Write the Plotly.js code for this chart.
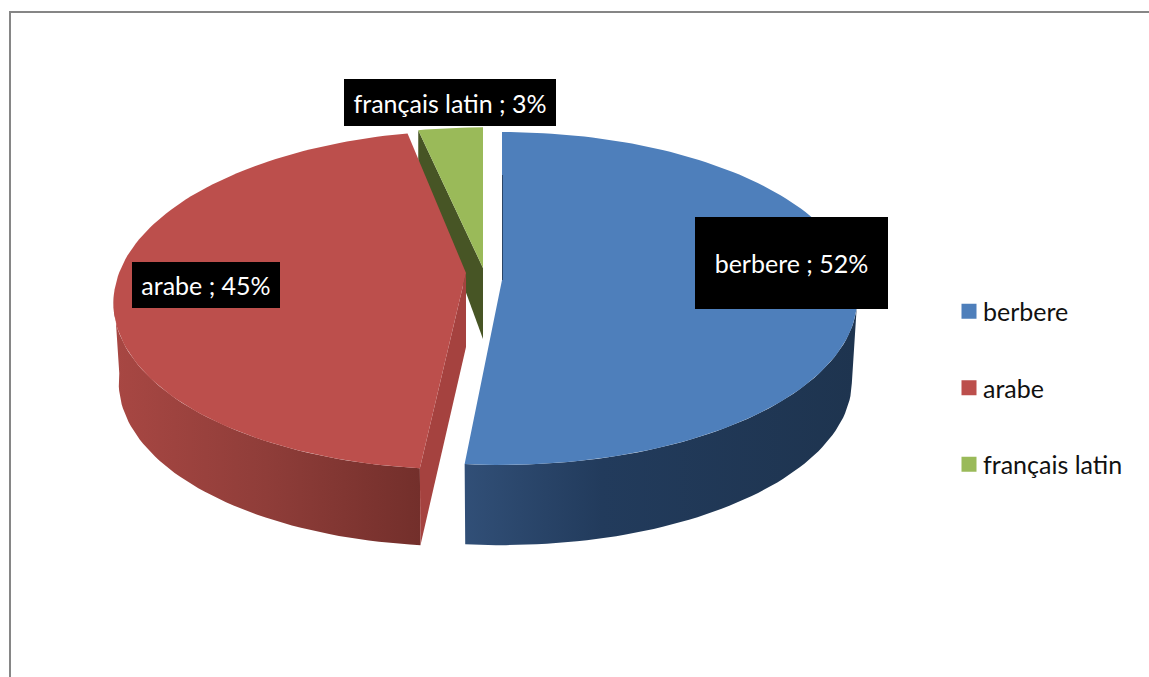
<!DOCTYPE html>
<html>
<head>
<meta charset="utf-8">
<script src="https://cdn.plot.ly/plotly-3.0.1.min.js"></script>
<style>
html,body{margin:0;padding:0;background:#fff;overflow:hidden}
#c{width:1149px;height:677px}
#c text{font-variant-ligatures:none}
#c .legend .legendsymbols{transform:translateX(6px)}
</style>
</head>
<body>
<div id="c"></div>
<script>
const categories = ['berbere', 'arabe', 'français latin'];
const shares = [51.5, 45.1, 3.4];
const shownPercent = [52, 45, 3];
const topColors = ['#4E7FBB', '#BC4F4C', '#9ABA59'];

// Projection of each tilted, exploded slice onto the chart area
const sliceViews = [
  {ax: 502, ay: 280, A: 353, B: 164.4, k: 0.111, skew: 0, drop: 83},
  {ax: 466, ay: 273, A: 347, B: 165, k: 0.159, skew: -39, drop: 80},
  {ax: 483, ay: 268, A: 353, B: 163, k: 0.159, skew: 0, drop: 71}
];
const depthScale = 0.985;
const greenFarDrop = 32;
const redCutDrop = 74;

function project(v, deg, bottom) {
  const t = deg * Math.PI / 180, X = Math.sin(t), Y = Math.cos(t);
  const s = bottom ? depthScale : 1;
  const w = 1 + v.k * Y;
  return [
    v.ax + v.skew * (1 / w - 1) + v.A * s * X / w,
    v.ay + (bottom ? v.drop : 0) - v.B * s * Y / w
  ];
}
function arc(v, a, b, bottom) {
  const pts = [], n = Math.max(2, Math.ceil(Math.abs(b - a) / 1.5));
  for (let i = 0; i <= n; i++) pts.push(project(v, a + (b - a) * i / n, bottom));
  return pts;
}
const total = shares.reduce((p, c) => p + c, 0);
const starts = [], ends = [];
shares.reduce((acc, val, i) => { starts[i] = acc; ends[i] = acc + val / total * 360; return ends[i]; }, 0);

function poly(pts, color, gradient) {
  const t = {
    type: 'scatter', mode: 'lines', x: pts.map(p => p[0]), y: pts.map(p => p[1]),
    fill: 'toself', fillcolor: color, line: {width: 0, color: color},
    hoverinfo: 'skip', showlegend: false
  };
  if (gradient) t.fillgradient = {type: 'horizontal', colorscale: gradient};
  return t;
}
const apex = i => [sliceViews[i].ax, sliceViews[i].ay];
const face = i => [apex(i)].concat(arc(sliceViews[i], starts[i], ends[i], false)).concat([apex(i)]);
const wall = (i, a, b) => arc(sliceViews[i], a, b, false).concat(arc(sliceViews[i], b, a, true));

const traces = [];
// berbere
traces.push(poly(wall(0, 97, ends[0]), '#213A5A', [[0, '#314F77'], [0.35, '#223B5C'], [1, '#1E344F']]));
traces.push(poly(face(0), topColors[0]));
traces.push({type: 'scatter', mode: 'lines', x: [apex(0)[0] + 0.5, apex(0)[0] + 0.5], y: [175, apex(0)[1]],
  line: {color: '#2A4568', width: 1}, hoverinfo: 'skip', showlegend: false});
// français latin: the cut side then the top
const gRim = project(sliceViews[2], starts[2], false);
traces.push(poly([gRim, apex(2), [apex(2)[0], apex(2)[1] + sliceViews[2].drop], [gRim[0], gRim[1] + greenFarDrop]], '#475525'));
traces.push(poly(face(2), topColors[2]));
// arabe
traces.push(poly(wall(1, starts[1], 263), '#8F3D3A', [[0, '#A84743'], [0.5, '#8F3D39'], [1, '#732F2B']]));
const rRimTop = project(sliceViews[1], starts[1], false), rRimBot = project(sliceViews[1], starts[1], true);
traces.push(poly([apex(1), [apex(1)[0], apex(1)[1] + redCutDrop], rRimBot, rRimTop], '#A5423F'));
traces.push(poly(face(1), topColors[1]));
// legend entries
categories.forEach((c, i) => traces.push({
  type: 'scatter', mode: 'markers', x: [null], y: [null], name: c, legendgroup: c,
  marker: {symbol: 'square', size: 15, color: topColors[i]}, hoverinfo: 'skip'
}));

const labelBoxes = [
  {x: 791.5, y: 263, w: 193, h: 92},
  {x: 206, y: 285, w: 148, h: 46},
  {x: 450, y: 102.5, w: 212, h: 47}
];
const annotations = categories.map((c, i) => ({
  x: labelBoxes[i].x, y: labelBoxes[i].y, xref: 'x', yref: 'y', showarrow: false,
  text: c + ' ; ' + shownPercent[i] + '%', width: labelBoxes[i].w, height: labelBoxes[i].h,
  bgcolor: '#000', borderpad: 0, borderwidth: 0, align: 'center', valign: 'middle',
  xanchor: 'center', yanchor: 'middle',
  font: {family: 'Lato, sans-serif', size: 25, color: '#fff'}
}));

const layout = {
  width: 1149, height: 677, margin: {l: 0, r: 0, t: 0, b: 0},
  paper_bgcolor: '#fff', plot_bgcolor: '#fff',
  xaxis: {range: [0, 1149], visible: false, fixedrange: true},
  yaxis: {range: [677, 0], visible: false, fixedrange: true},
  shapes: [
    {type: 'line', xref: 'x', yref: 'y', x0: 9, x1: 1149, y0: 12, y1: 12, line: {color: '#868686', width: 2}},
    {type: 'line', xref: 'x', yref: 'y', x0: 10, x1: 10, y0: 11, y1: 677, line: {color: '#868686', width: 2}}
  ],
  annotations: annotations,
  showlegend: true,
  legend: {
    x: 943 / 1149, y: 1 - 388 / 677, yanchor: 'middle', traceorder: 'grouped', tracegroupgap: 41,
    font: {family: 'Lato, sans-serif', size: 25, color: '#111'}, bgcolor: 'rgba(0,0,0,0)'
  }
};
Plotly.newPlot('c', traces, layout, {displayModeBar: false, staticPlot: true});
</script>
</body>
</html>
